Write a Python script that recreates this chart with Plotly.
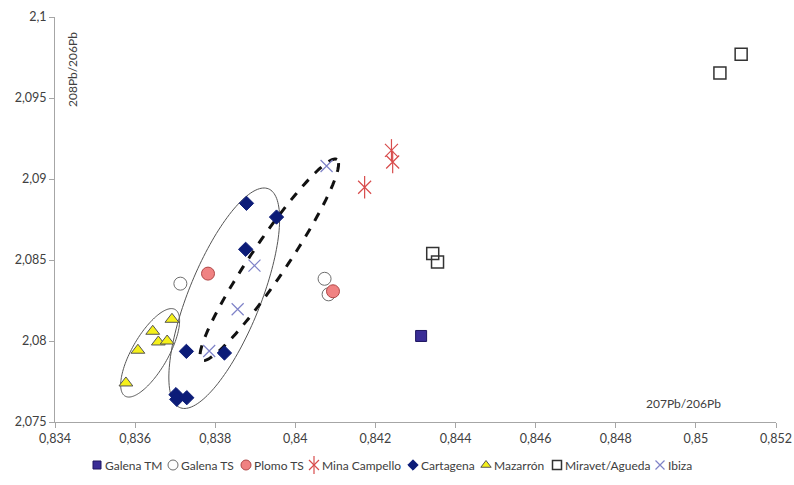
import numpy as np
import plotly.graph_objects as go

# ---------------- data ----------------
galena_tm_x = [0.84314]
galena_tm_y = [2.08031]

galena_ts_x = [0.83713, 0.84073, 0.84083]
galena_ts_y = [2.08354, 2.08384, 2.08288]

plomo_ts_x = [0.83782, 0.84094]
plomo_ts_y = [2.08416, 2.08307]

campello_x = [0.84240, 0.84243, 0.84173]
campello_y = [2.09177, 2.09105, 2.08949]

cartagena_x = [0.83878, 0.83953, 0.83876, 0.83728, 0.83823, 0.83702, 0.83704, 0.83729]
cartagena_y = [2.08850, 2.08765, 2.08566, 2.07936, 2.07926, 2.07669, 2.07640, 2.07650]

mazarron_x = [0.83692, 0.83644, 0.83658, 0.83680, 0.83607, 0.83577]
mazarron_y = [2.08134, 2.08060, 2.07994, 2.08000, 2.07943, 2.07741]

miravet_x = [0.84343, 0.84355, 0.85113, 0.85060]
miravet_y = [2.08540, 2.08488, 2.09770, 2.09654]

ibiza_x = [0.84078, 0.83898, 0.83856, 0.83785]
ibiza_y = [2.09080, 2.08465, 2.08196, 2.07938]

legend_labels = ["Galena TM", "Galena TS", "Plomo TS", "Mina Campello",
                 "Cartagena", "Mazarrón", "Miravet/Agueda", "Ibiza"]

x_title = "207Pb/206Pb"
y_title = "208Pb/206Pb"

# ---------------- layout constants (pixels) ----------------
W, H = 794, 485
PL, PR, PT, PB = 55, 776, 17, 422          # plot-area edges
PW, PH = PR - PL, PB - PT
X_RANGE = [0.834, 0.852]
Y_RANGE = [2.075, 2.1]
FONT = "Lato"
TXT = "#404040"
AXC = "#a6a6a6"

# marker styles
S_TM = dict(symbol="square", size=11, color="#3a2d96", line=dict(color="#1e1660", width=1))
S_TS = dict(symbol="circle-open", size=13, color="#6e6e6e", line=dict(width=1))
S_PL = dict(symbol="circle", size=13, color="#f08282", line=dict(color="#b04848", width=1))
S_CA_X = dict(symbol="x-thin-open", size=13, color="#d84c4c", line=dict(width=1.2))
S_CA_I = dict(symbol="line-ns-open", size=16, color="#d84c4c", line=dict(width=1.2))
S_CT = dict(symbol="diamond", size=11, color="#0c1c78", line=dict(color="#0c1c78", width=1))
S_MZ = dict(symbol="triangle-up", size=12, color="#f5f01a", line=dict(color="#555555", width=1))
S_MV = dict(symbol="square-open", size=12, color="#333333", line=dict(width=1.5))
S_IB = dict(symbol="x-thin-open", size=12, color="#7f83c8", line=dict(width=1.2))

fig = go.Figure()


def add(x, y, marker, xa="x", ya="y"):
    fig.add_trace(go.Scatter(x=x, y=y, mode="markers", marker=marker,
                             showlegend=False, hoverinfo="skip",
                             xaxis=xa, yaxis=ya, cliponaxis=False))


add(mazarron_x, mazarron_y, S_MZ)
add(cartagena_x, cartagena_y, S_CT)
add(galena_ts_x, galena_ts_y, S_TS)
add(plomo_ts_x, plomo_ts_y, S_PL)
add(galena_tm_x, galena_tm_y, S_TM)
add(campello_x, campello_y, S_CA_X)
add(campello_x, campello_y, S_CA_I)
add(miravet_x, miravet_y, S_MV)
add(ibiza_x, ibiza_y, S_IB)


# ---------------- group ellipses ----------------
def ellipse_path(cx, cy, a_px, b_px, ang_deg, n=160):
    sx = PW / (X_RANGE[1] - X_RANGE[0])
    sy = PH / (Y_RANGE[1] - Y_RANGE[0])
    t = np.linspace(0, 2 * np.pi, n)
    th = np.radians(ang_deg)
    dx = a_px * np.cos(t) * np.cos(th) - b_px * np.sin(t) * np.sin(th)
    dy = a_px * np.cos(t) * np.sin(th) + b_px * np.sin(t) * np.cos(th)
    xs = cx + dx / sx
    ys = cy + dy / sy
    pts = [f"{xv:.6f},{yv:.6f}" for xv, yv in zip(xs, ys)]
    return "M " + " L ".join(pts) + " Z"


ELLIPSES = [
    # center x, center y, semi-major px, semi-minor px, angle, dash, width
    (0.838225, 2.08264, 118, 36, 68, "solid", 1.0),
    (0.836375, 2.07927, 50, 18, 60, "solid", 1.0),
    (0.839350, 2.08501, 121, 18, 56, "dash", 3.0),
]
for cx, cy, a, b, ang, dash, lw in ELLIPSES:
    fig.add_shape(type="path", path=ellipse_path(cx, cy, a, b, ang),
                  xref="x", yref="y",
                  line=dict(color="#111111" if dash == "dash" else "#555555",
                            width=lw, dash=dash), layer="below")

# ---------------- manual legend (full-figure pixel overlay axes) ----------------
LEG_Y = 465
LEG_SYM_X = [97, 173, 246, 314, 413, 486, 557, 660]
LEG_STYLES = [S_TM, S_TS, S_PL, [S_CA_X, S_CA_I], S_CT, S_MZ, S_MV, S_IB]
for sx_, st, lab in zip(LEG_SYM_X, LEG_STYLES, legend_labels):
    sts = st if isinstance(st, list) else [st]
    for s in sts:
        m = dict(s)
        m["size"] = max(8, m["size"] - 3)
        add([sx_], [LEG_Y], m, xa="x2", ya="y2")
    fig.add_annotation(x=sx_ + 6, y=LEG_Y, xref="x2", yref="y2", text=lab,
                       showarrow=False, xanchor="left", yanchor="middle",
                       font=dict(family=FONT, size=12, color=TXT))

# axis titles placed inside the plot as in the original
fig.add_annotation(x=72, y=70, xref="x2", yref="y2", text=y_title, textangle=-90,
                   showarrow=False, font=dict(family=FONT, size=12, color=TXT))
fig.add_annotation(x=683, y=403, xref="x2", yref="y2", text=x_title,
                   showarrow=False, font=dict(family=FONT, size=12, color=TXT))

axis_common = dict(showgrid=False, zeroline=False, showline=True, linecolor=AXC,
                   linewidth=1, ticks="outside", ticklen=5, tickcolor=AXC,
                   tickfont=dict(family=FONT, size=12.5, color=TXT),
                   fixedrange=True, automargin=False)

fig.update_layout(
    template="none",
    width=W, height=H,
    margin=dict(l=0, r=0, t=0, b=0, pad=0),
    paper_bgcolor="white", plot_bgcolor="rgba(0,0,0,0)",
    separators=", ",
    showlegend=False,
    font=dict(family=FONT, size=12, color=TXT),
    xaxis=dict(range=X_RANGE, dtick=0.002, tick0=0.834,
               domain=[PL / W, PR / W], anchor="y", **axis_common),
    yaxis=dict(range=Y_RANGE, dtick=0.005, tick0=2.075,
               domain=[1 - PB / H, 1 - PT / H], anchor="x", **axis_common),
    xaxis2=dict(range=[0, W], domain=[0, 1], anchor="y2", visible=False,
                fixedrange=True, automargin=False),
    yaxis2=dict(range=[H, 0], domain=[0, 1], anchor="x2", visible=False,
                fixedrange=True, automargin=False),
)

fig.write_html("out.html", config={"displayModeBar": False},
               post_script="document.body.style.margin='0px';document.body.style.overflow='hidden';")
